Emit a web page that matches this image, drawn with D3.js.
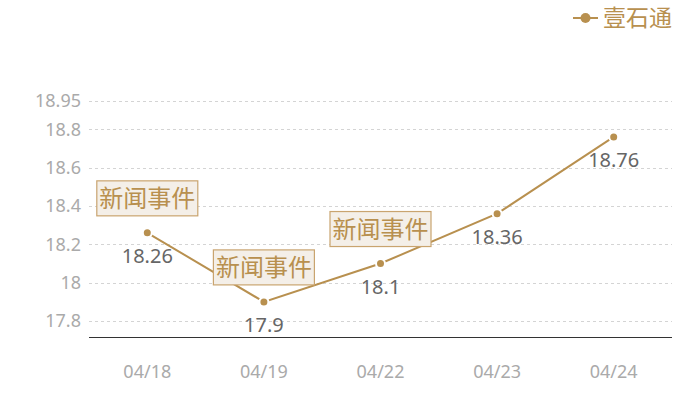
<!DOCTYPE html>
<html>
<head>
<meta charset="utf-8">
<script src="https://cdn.jsdelivr.net/npm/d3@7"></script>
<style>
  body { margin: 0; background: #fff; }
  svg { font-family: "Noto Sans", "Noto Sans CJK SC", sans-serif; }
</style>
</head>
<body>
<svg id="chart" width="700" height="400"></svg>
<script>
const dates = ["04/18", "04/19", "04/22", "04/23", "04/24"];
const prices = [18.26, 17.9, 18.1, 18.36, 18.76];
const yTicks = [17.8, 18, 18.2, 18.4, 18.6, 18.8, 18.95];
const events = ["04/18", "04/19", "04/22"];
const eventLabel = "新闻事件";
const seriesName = "壹石通";

const gold = "#b8904f";
const margins = { left: 89, right: 28, top: 100, bottom: 63 };
const width = 700, height = 400;

const svg = d3.select("#chart");

const x = d3.scaleBand()
  .domain(dates)
  .range([margins.left, width - margins.right]);

const y = d3.scaleLinear()
  .domain([17.717, 18.95])
  .range([height - margins.bottom, margins.top + 0.5]);

const data = dates.map((d, i) => ({ date: d, value: prices[i] }));
const cx = (d) => x(d) + x.bandwidth() / 2;

// grid lines
svg.append("g")
  .selectAll("line")
  .data(yTicks)
  .join("line")
  .attr("x1", margins.left)
  .attr("x2", width - margins.right)
  .attr("y1", (d) => Math.round(y(d)) + 0.5)
  .attr("y2", (d) => Math.round(y(d)) + 0.5)
  .attr("stroke", "#d4d4d4")
  .attr("stroke-dasharray", "3,3");

// y labels
svg.append("g")
  .selectAll("text")
  .data(yTicks)
  .join("text")
  .attr("x", 81)
  .attr("y", (d) => y(d))
  .attr("dy", "0.35em")
  .attr("text-anchor", "end")
  .attr("font-size", "18px")
  .attr("fill", "#aaaaaa")
  .text((d) => d);

// x axis line
svg.append("line")
  .attr("x1", margins.left)
  .attr("x2", width - margins.right)
  .attr("y1", height - margins.bottom + 0.5)
  .attr("y2", height - margins.bottom + 0.5)
  .attr("stroke", "#333");

// x labels
svg.append("g")
  .selectAll("text")
  .data(dates)
  .join("text")
  .attr("x", (d) => cx(d))
  .attr("y", 378)
  .attr("text-anchor", "middle")
  .attr("font-size", "18px")
  .attr("fill", "#aaaaaa")
  .text((d) => d);

// line
const line = d3.line()
  .x((d) => cx(d.date))
  .y((d) => y(d.value));

svg.append("path")
  .datum(data)
  .attr("d", line)
  .attr("fill", "none")
  .attr("stroke", gold)
  .attr("stroke-width", 2);

// points
svg.append("g")
  .selectAll("circle")
  .data(data)
  .join("circle")
  .attr("cx", (d) => cx(d.date))
  .attr("cy", (d) => y(d.value))
  .attr("r", 4.5)
  .attr("fill", gold)
  .attr("stroke", "#fff")
  .attr("stroke-width", 2);

// value labels
svg.append("g")
  .selectAll("text")
  .data(data)
  .join("text")
  .attr("x", (d) => cx(d.date))
  .attr("y", (d) => y(d.value) + 30)
  .attr("text-anchor", "middle")
  .attr("font-size", "20px")
  .attr("fill", "#666")
  .text((d) => d.value);

// event markers
const ev = svg.append("g")
  .selectAll("g")
  .data(data.filter((d) => events.includes(d.date)))
  .join("g")
  .attr("transform", (d) => `translate(${cx(d.date)}, ${y(d.value) - 17})`);

ev.append("rect")
  .attr("x", -50.5)
  .attr("y", -35)
  .attr("width", 101)
  .attr("height", 35)
  .attr("fill", "#f4efe8")
  .attr("stroke", "#c9a46f")
  .attr("stroke-width", 1.2);

ev.append("text")
  .attr("x", 0)
  .attr("y", -17.5)
  .attr("dy", "0.36em")
  .attr("text-anchor", "middle")
  .attr("font-size", "24px")
  .attr("fill", gold)
  .text(eventLabel);

// legend
const legend = svg.append("g").attr("transform", "translate(573, 18)");
legend.append("line")
  .attr("x1", 0)
  .attr("x2", 25)
  .attr("stroke", gold)
  .attr("stroke-width", 2);
legend.append("circle")
  .attr("cx", 12.5)
  .attr("r", 5)
  .attr("fill", gold);
legend.append("text")
  .attr("x", 30)
  .attr("dy", "0.36em")
  .attr("font-size", "23px")
  .attr("fill", gold)
  .text(seriesName);
</script>
</body>
</html>
